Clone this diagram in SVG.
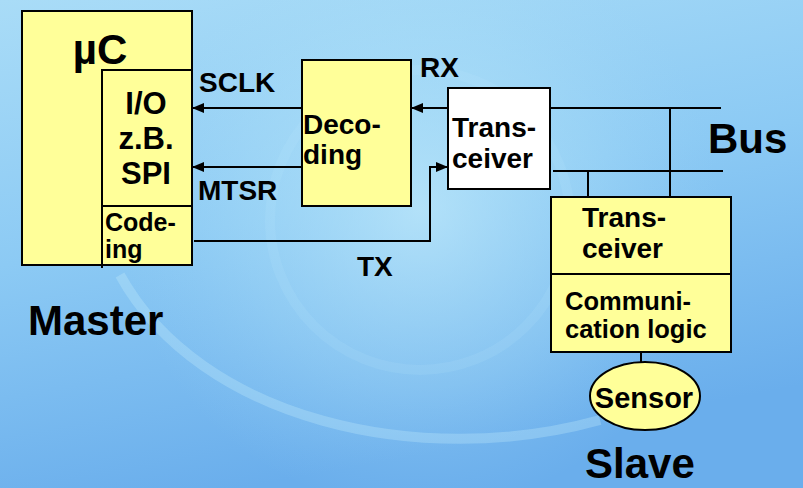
<svg xmlns="http://www.w3.org/2000/svg" width="803" height="488" viewBox="0 0 803 488">
<defs>
<linearGradient id="bg" x1="0" y1="0" x2="0.3" y2="1">
<stop offset="0" stop-color="#a9dcf7"/>
<stop offset="0.5" stop-color="#8ccaf4"/>
<stop offset="1" stop-color="#6aaeec"/>
</linearGradient>
<radialGradient id="glow" cx="420" cy="210" r="300" gradientUnits="userSpaceOnUse">
<stop offset="0" stop-color="#c4ecfb" stop-opacity="0.7"/>
<stop offset="0.6" stop-color="#b0e2f8" stop-opacity="0.3"/>
<stop offset="1" stop-color="#9fd6f6" stop-opacity="0"/>
</radialGradient>
<marker id="ah" viewBox="0 0 12 10" refX="12" refY="5" markerWidth="12" markerHeight="10" markerUnits="userSpaceOnUse" orient="auto">
<path d="M0,0 L12,5 L0,10 Z" fill="#000"/>
</marker>
</defs>
<style>
.box{fill:#ffff99;stroke:#000;stroke-width:2}
.wbox{fill:#fff;stroke:#000;stroke-width:2}
.ln{fill:none;stroke:#000;stroke-width:2}
.t{font-family:"Liberation Sans",Arial,sans-serif;font-weight:bold;fill:#000}
.l28{font-size:28px}
.l26{font-size:25px}
.l40{font-size:42px}
.io{font-size:31px}
</style>
<rect x="0" y="0" width="803" height="488" fill="url(#bg)"/>
<rect x="0" y="0" width="803" height="488" fill="url(#glow)"/>
<g fill="none" stroke="#c8f0fc" stroke-width="10">
<path d="M120,275 C200,420 420,470 600,420" stroke-opacity="0.3"/>
<circle cx="420" cy="220" r="150" stroke-opacity="0.12"/>
</g>

<g id="master">
<rect class="box" x="22" y="11" width="170" height="254"/>
<text class="t l40" x="100" y="64" text-anchor="middle">µC</text>
</g>
<g id="io">
<rect class="box" x="102" y="70" width="90" height="136"/>
<text class="t io" x="146" y="114" text-anchor="middle">I/O</text>
<text class="t io" x="146" y="149" text-anchor="middle">z.B.</text>
<text class="t io" x="146" y="184" text-anchor="middle">SPI</text>
</g>
<g id="coding">
<rect class="box" x="102" y="206" width="90" height="59"/>
<line class="ln" x1="102" y1="265" x2="102" y2="268"/>
<text class="t l26" x="105" y="231">Code-</text>
<text class="t l26" x="105" y="258">ing</text>
</g>
<g id="decoding">
<rect class="box" x="302" y="60" width="109" height="146"/>
<text class="t l28" x="303" y="134">Deco-</text>
<text class="t l28" x="303" y="164">ding</text>
</g>
<g id="transceiver-master">
<rect class="wbox" x="448" y="88" width="102" height="101"/>
<text class="t l28" x="452" y="137">Trans-</text>
<text class="t l28" x="452" y="168">ceiver</text>
</g>
<g id="slave">
<rect class="box" x="551" y="197" width="180" height="77"/>
<text class="t l28" x="582" y="227">Trans-</text>
<text class="t l28" x="582" y="258">ceiver</text>
<rect class="box" x="551" y="274" width="180" height="78"/>
<text class="t" font-size="25.5" x="565" y="310">Communi-</text>
<text class="t" font-size="25.5" x="565" y="338">cation logic</text>
</g>
<g id="sensor">
<ellipse class="box" cx="645" cy="396" rx="55" ry="34"/>
<text class="t" font-size="29" x="644" y="408" text-anchor="middle">Sensor</text>
</g>

<g id="connectors">
<line class="ln" x1="302" y1="108" x2="192" y2="108" marker-end="url(#ah)"/>
<line class="ln" x1="302" y1="167" x2="192" y2="167" marker-end="url(#ah)"/>
<line class="ln" x1="448" y1="108" x2="411" y2="108" marker-end="url(#ah)"/>
<polyline class="ln" points="194,241 430,241 430,167 448,167" marker-end="url(#ah)"/>
<line class="ln" x1="550" y1="108" x2="721" y2="108"/>
<line class="ln" x1="553" y1="171" x2="723" y2="171"/>
<line class="ln" x1="670" y1="108" x2="670" y2="197"/>
<line class="ln" x1="588" y1="171" x2="588" y2="197"/>
<line class="ln" x1="641" y1="352" x2="641" y2="362"/>
</g>

<g id="labels">
<text class="t l28" x="199" y="92">SCLK</text>
<text class="t l28" x="198" y="200">MTSR</text>
<text class="t l28" x="420" y="77">RX</text>
<text class="t l28" x="357" y="276">TX</text>
<text class="t l40" x="708" y="153">Bus</text>
<text class="t l40" x="28" y="335">Master</text>
<text class="t l40" x="585" y="478">Slave</text>
</g>
</svg>
